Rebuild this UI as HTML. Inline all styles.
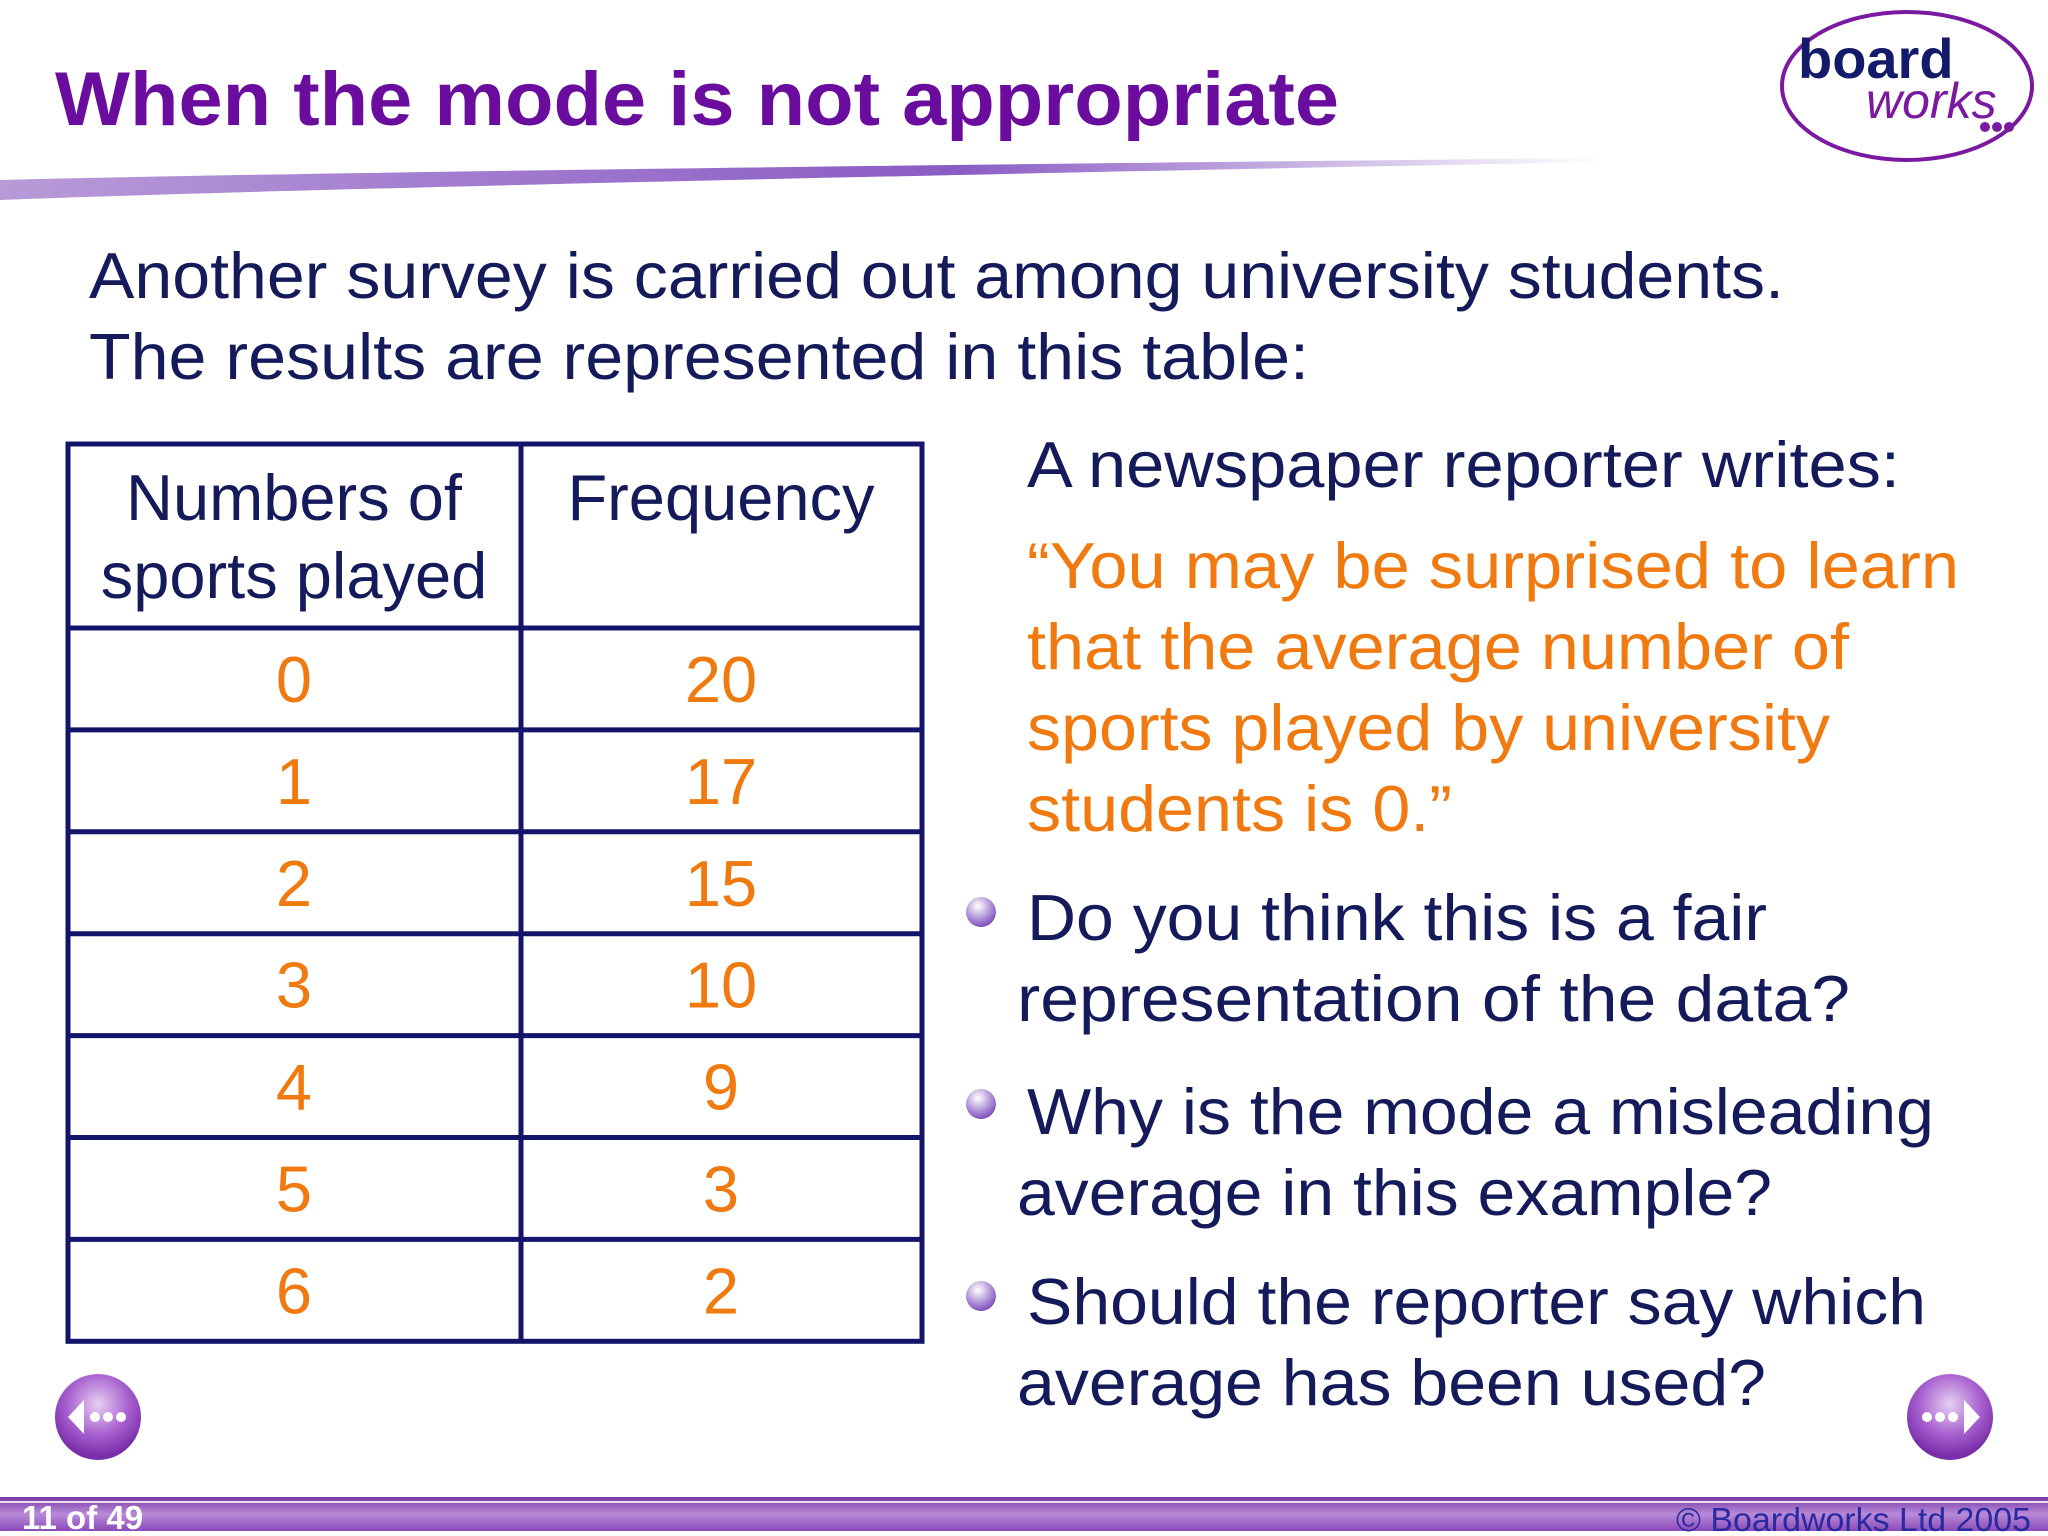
<!DOCTYPE html>
<html><head><meta charset="utf-8"><style>
html,body{margin:0;padding:0;background:#fff;}
svg{display:block;}
text{font-family:"Liberation Sans",sans-serif;}
</style></head><body>
<svg width="2048" height="1536" viewBox="0 0 2048 1536">
<defs>
<linearGradient id="sw" x1="0" x2="1" y1="0" y2="0"><stop offset="0" stop-color="#b89ad8"/><stop offset="0.6" stop-color="#8a5cc4"/><stop offset="1" stop-color="#fff"/></linearGradient>
<linearGradient id="bar" x1="0" x2="0" y1="0" y2="1"><stop offset="0" stop-color="#7a3aa8"/><stop offset="0.5" stop-color="#b88ad8"/><stop offset="1" stop-color="#8a4ab8"/></linearGradient>
<radialGradient id="btn" cx="0.5" cy="0.35" r="0.6"><stop offset="0" stop-color="#e6d0f2"/><stop offset="0.6" stop-color="#a860d0"/><stop offset="1" stop-color="#7a2fa8"/></radialGradient>
<radialGradient id="bul" cx="0.4" cy="0.3" r="0.7"><stop offset="0" stop-color="#fff"/><stop offset="1" stop-color="#8050c0"/></radialGradient>
</defs>
<text x="55" y="125" font-size="76" font-weight="bold" fill="#6a0d9e" textLength="1284" lengthAdjust="spacingAndGlyphs">When the mode is not appropriate</text>
<path d="M0 180 Q400 170 1600 158 L1600 162 Q400 185 0 200 Z" fill="url(#sw)"/>
<g>
<ellipse cx="1907" cy="86" rx="125" ry="74" fill="none" stroke="#7a1aa0" stroke-width="4"/>
<text x="1798" y="78" font-size="56" font-weight="bold" fill="#141a6a">board</text>
<text x="1866" y="118" font-size="50" font-style="italic" fill="#7a1aa0">works</text>
<circle cx="1985" cy="127" r="5" fill="#7a1aa0"/><circle cx="1997" cy="127" r="5" fill="#7a1aa0"/><circle cx="2009" cy="127" r="5" fill="#7a1aa0"/>
</g>
<g fill="#141a5a" font-size="65">
<text x="89" y="298" textLength="1695" lengthAdjust="spacingAndGlyphs">Another survey is carried out among university students.</text>
<text x="89" y="379" textLength="1220" lengthAdjust="spacingAndGlyphs">The results are represented in this table:</text>
</g>
<g id="tbl"></g>
<g fill="#141a5a" font-size="65">
<text x="1027" y="487" textLength="873" lengthAdjust="spacingAndGlyphs">A newspaper reporter writes:</text>
</g>
<g fill="#f07a10" font-size="65">
<text x="1027" y="588" textLength="932" lengthAdjust="spacingAndGlyphs">“You may be surprised to learn</text>
<text x="1027" y="669" textLength="822" lengthAdjust="spacingAndGlyphs">that the average number of</text>
<text x="1027" y="750" textLength="803" lengthAdjust="spacingAndGlyphs">sports played by university</text>
<text x="1027" y="831" textLength="425" lengthAdjust="spacingAndGlyphs">students is 0.”</text>
</g>
<g fill="#141a5a" font-size="65">
<circle cx="981" cy="912" r="15" fill="url(#bul)"/>
<text x="1027" y="940" textLength="740" lengthAdjust="spacingAndGlyphs">Do you think this is a fair</text>
<text x="1017" y="1021" textLength="833" lengthAdjust="spacingAndGlyphs">representation of  the data?</text>
<circle cx="981" cy="1104" r="15" fill="url(#bul)"/>
<text x="1027" y="1134" textLength="907" lengthAdjust="spacingAndGlyphs">Why is the mode a misleading</text>
<text x="1017" y="1215" textLength="755" lengthAdjust="spacingAndGlyphs">average in this example?</text>
<circle cx="981" cy="1296" r="15" fill="url(#bul)"/>
<text x="1027" y="1324" textLength="899" lengthAdjust="spacingAndGlyphs">Should the reporter say which</text>
<text x="1017" y="1405" textLength="749" lengthAdjust="spacingAndGlyphs">average has been used?</text>
</g>
<g>
<circle cx="98" cy="1417" r="43" fill="url(#btn)"/>
<path d="M68 1417 L84 1400 L84 1434 Z" fill="#fff"/>
<circle cx="95" cy="1417" r="5" fill="#fff"/><circle cx="108" cy="1417" r="5" fill="#fff"/><circle cx="121" cy="1417" r="5" fill="#fff"/>
</g>
<g>
<circle cx="1950" cy="1417" r="43" fill="url(#btn)"/>
<path d="M1980 1417 L1964 1400 L1964 1434 Z" fill="#fff"/>
<circle cx="1927" cy="1417" r="5" fill="#fff"/><circle cx="1940" cy="1417" r="5" fill="#fff"/><circle cx="1953" cy="1417" r="5" fill="#fff"/>
</g>
<rect x="0" y="1497" width="2048" height="34" fill="url(#bar)"/>
<rect x="0" y="1501" width="2048" height="2" fill="#fff" opacity="0.8"/>
<text x="22" y="1529" font-size="33" font-weight="bold" fill="#fff">11 of 49</text>
<text x="2031" y="1531" font-size="33" fill="#2a2aa0" text-anchor="end" textLength="355" lengthAdjust="spacingAndGlyphs">© Boardworks Ltd 2005</text>
</svg>
<script>
const sports=["0","1","2","3","4","5","6"];
const freq=[20,17,15,10,9,3,2];
const g=document.getElementById('tbl');
const NS="http://www.w3.org/2000/svg";
const X0=68,X1=521,X2=922,Y0=444,YH=628,RH=101.9;
function mk(t,a,txt){const e=document.createElementNS(NS,t);for(const k in a)e.setAttribute(k,a[k]);if(txt!==undefined)e.textContent=txt;g.appendChild(e);return e;}
const yB=YH+RH*sports.length;
const outer=mk('rect',{x:X0,y:Y0,width:X2-X0,height:yB-Y0,fill:'none',stroke:'#14146a','stroke-width':5});


mk('line',{x1:X1,y1:Y0,x2:X1,y2:yB,stroke:'#14146a','stroke-width':5});
const h1=mk('text',{x:294,y:520,'font-size':65,fill:'#141a5a','text-anchor':'middle'},'Numbers of');


mk('text',{x:294,y:598,'font-size':65,fill:'#141a5a','text-anchor':'middle'},'sports played');
const h2=mk('text',{x:721,y:520,'font-size':65,fill:'#141a5a','text-anchor':'middle'},'Frequency');


sports.forEach((s,i)=>{
  const top=YH+RH*i;
  mk('line',{x1:X0,y1:top,x2:X2,y2:top,stroke:'#14146a','stroke-width':5});
  const cy=top+RH/2+23;
  const a=mk('text',{x:294,y:cy,'font-size':65,fill:'#f07a10','text-anchor':'middle'},s);
  
  
  const b=mk('text',{x:721,y:cy,'font-size':65,fill:'#f07a10','text-anchor':'middle'},String(freq[i]));
  
  
});
</script>
</body></html>
